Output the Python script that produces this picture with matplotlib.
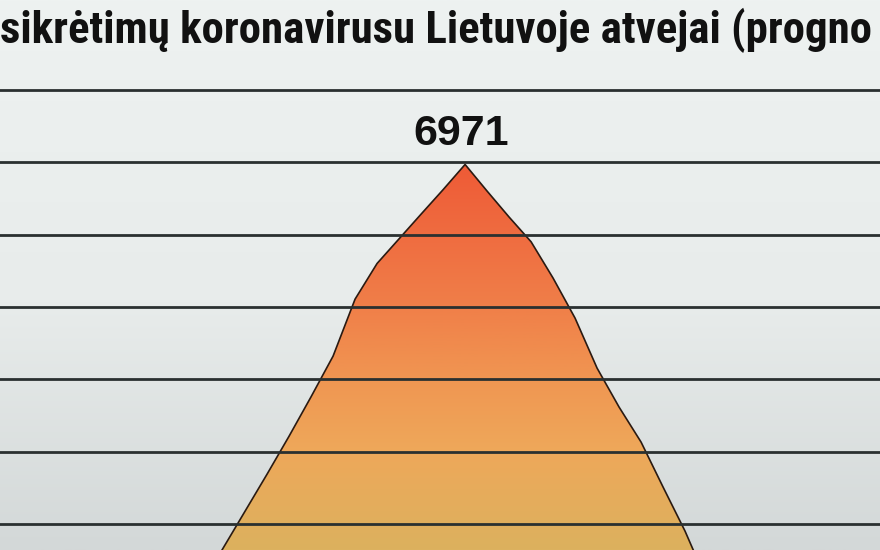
import numpy as np
import matplotlib.pyplot as plt
from matplotlib import font_manager
from matplotlib.colors import LinearSegmentedColormap
from matplotlib.patches import Polygon

# visible part of the (cropped) title
title = "sikrėtimų koronavirusu Lietuvoje atvejai (progno"

# daily forecast of cases
days = list(range(24))
cases = [1150, 1665, 2177, 2689, 3214, 3759, 4321, 5109, 5602, 5943, 6284, 6622, 6971,
         6603, 6244, 5902, 5400, 4846, 4155, 3616, 3132, 2510, 1900, 1200]
grid_levels = [2000, 3000, 4000, 5000, 6000, 7000, 8000]
peak_label = "6971"

fig = plt.figure(figsize=(8.8, 5.5), dpi=100)
ax = fig.add_axes([0, 0, 1, 1])
x0, x1 = -9.14, 30.86
y0, y1 = 1640, 9245

# light background, a bit darker towards the bottom
bg = LinearSegmentedColormap.from_list('bg', [(0, '#d3d8d8'), (0.45, '#e8eceb'), (1, '#eef2f1')])
ax.imshow(np.linspace(0, 1, 256).reshape(-1, 1), cmap=bg, extent=(x0, x1, y0, y1),
          origin='lower', aspect='auto', zorder=0)

# area under the curve with a vertical warm gradient
verts = list(zip(days, cases)) + [(days[-1], y0 - 500), (days[0], y0 - 500)]
area = Polygon(verts, closed=True, facecolor='none', edgecolor='none', transform=ax.transData)
ax.add_patch(area)
warm = LinearSegmentedColormap.from_list('warm', [(0, '#dcb15e'), (0.254, '#eea85a'), (0.44, '#f09652'),
                                                  (0.627, '#f07f49'), (0.813, '#ef6c40'), (1, '#ee5a36')])
im = ax.imshow(np.linspace(0, 1, 256).reshape(-1, 1), cmap=warm, extent=(x0, x1, y0, 7000),
               origin='lower', aspect='auto', zorder=1)
im.set_clip_path(area)

ax.plot(days, cases, color='#2a1a12', lw=1.2, zorder=3)

for v in grid_levels:
    ax.axhline(v, color='#2a3030', lw=2.0, zorder=4)

i = cases.index(max(cases))
ax.annotate(peak_label, xy=(days[i], cases[i]), xytext=(-2.5, 14), textcoords='offset points',
            ha='center', va='baseline', fontsize=31, fontweight='bold', family='Liberation Sans',
            color='#111111')

# title font: a narrow face if one is installed, else Liberation Sans; sized to span the width
names = {f.name for f in font_manager.fontManager.ttflist}
title_font = next((n for n in ['Liberation Sans Narrow', 'Roboto Condensed', 'Arial Narrow']
                   if n in names), 'Liberation Sans')
t = fig.text(0.0, 1 - 43 / 550, title, ha='left', va='baseline', fontsize=29, fontweight='bold',
             family=title_font, color='#111111')

ax.set_xlim(x0, x1)
ax.set_ylim(y0, y1)
ax.axis('off')

fig.canvas.draw()
w = t.get_window_extent().width
t.set_fontsize(29 * 872 / w)

fig.savefig('out.png', dpi=100)
